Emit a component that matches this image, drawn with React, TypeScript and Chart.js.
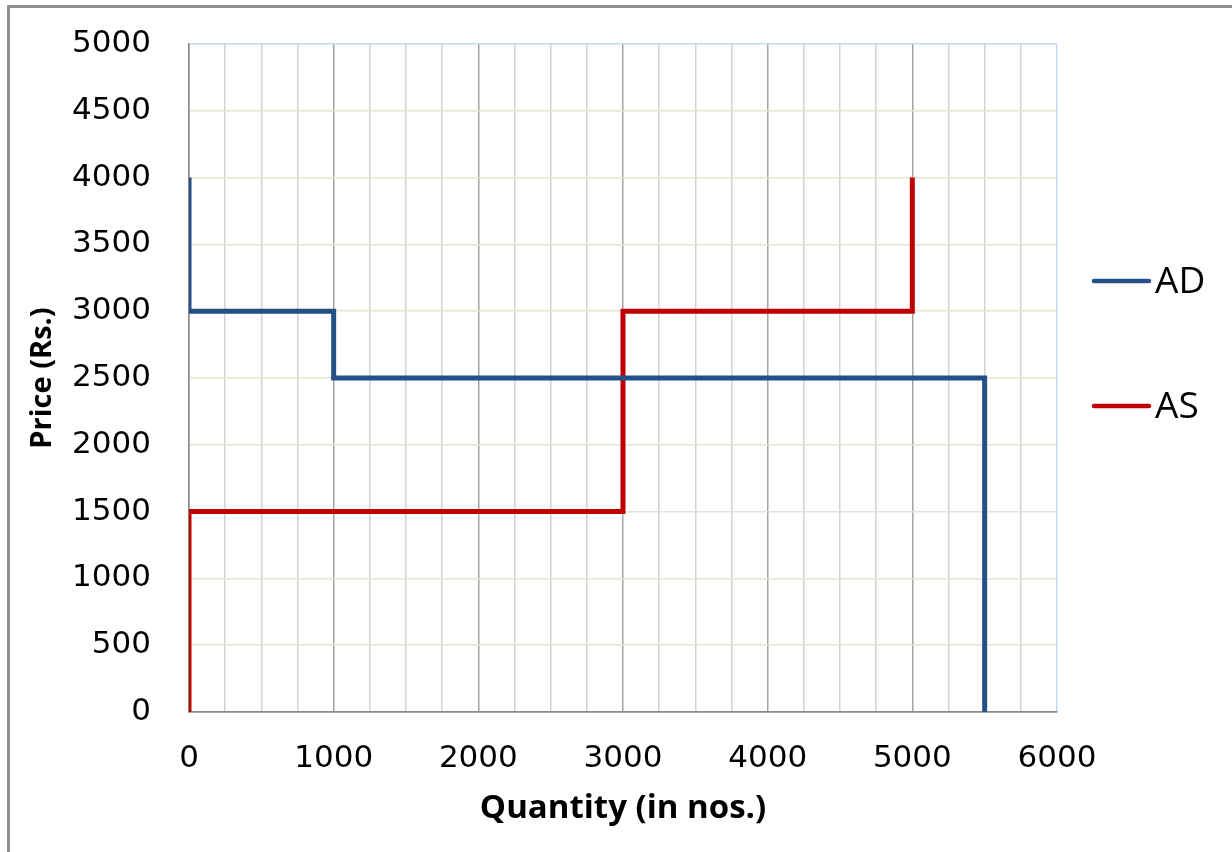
import React, { useEffect, useRef } from "react";
import { Chart, registerables } from "chart.js";

Chart.register(...registerables);

const seriesNames = ["AD", "AS"];
const adQuantity = [0, 0, 1000, 1000, 5500, 5500];
const adPrice = [4000, 3000, 3000, 2500, 2500, 0];
const asQuantity = [0, 0, 3000, 3000, 5000, 5000];
const asPrice = [0, 1500, 1500, 3000, 3000, 4000];
const xTickLabels = ["0", "1000", "2000", "3000", "4000", "5000", "6000"];
const yTickLabels = ["0", "500", "1000", "1500", "2000", "2500", "3000", "3500", "4000", "4500", "5000"];

const colors = ["#244F87", "#C00000"];

const toPoints = (xs: number[], ys: number[]) => xs.map((x, i) => ({ x, y: ys[i] }));

const legendPlugin = {
  id: "sideLegend",
  afterDraw(chart: any) {
    const ctx = chart.ctx;
    const ys = [281, 406];
    ctx.save();
    chart.data.datasets.forEach((ds: any, i: number) => {
      const y = ys[i];
      ctx.strokeStyle = ds.borderColor;
      ctx.lineWidth = 4.5;
      ctx.lineCap = "round";
      ctx.beginPath();
      ctx.moveTo(1094, y);
      ctx.lineTo(1149, y);
      ctx.stroke();
      ctx.fillStyle = "#000";
      ctx.font = "37px 'Open Sans'";
      ctx.textBaseline = "middle";
      ctx.textAlign = "left";
      ctx.fillText(ds.label, 1155, y + 1);
    });
    ctx.restore();
  },
};

export default function App() {
  const ref = useRef<HTMLCanvasElement>(null);

  useEffect(() => {
    if (!ref.current) return;
    const chart = new Chart(ref.current, {
      type: "line",
      data: {
        datasets: [
          {
            label: seriesNames[0],
            data: toPoints(adQuantity, adPrice),
            borderColor: colors[0],
            backgroundColor: colors[0],
            borderWidth: 5,
            pointRadius: 0,
            tension: 0,
            fill: false,
          },
          {
            label: seriesNames[1],
            data: toPoints(asQuantity, asPrice),
            borderColor: colors[1],
            backgroundColor: colors[1],
            borderWidth: 5,
            pointRadius: 0,
            tension: 0,
            fill: false,
          },
        ],
      },
      options: {
        animation: false,
        responsive: false,
        devicePixelRatio: 1,
        layout: { padding: { left: 0, top: 44, right: 175, bottom: 0 } },
        plugins: { legend: { display: false }, tooltip: { enabled: false } },
        scales: {
          x: {
            type: "linear",
            min: 0,
            max: 6000,
            afterFit: (s: any) => {
              s.height = 140;
              s.paddingLeft = 0;
              s.paddingRight = 0;
            },
            ticks: {
              stepSize: 250,
              autoSkip: false,
              maxRotation: 0,
              padding: 28,
              color: "#000",
              font: { family: "'DejaVu Sans'", size: 31 },
              callback: (v: any) => {
                const n = Number(v);
                return n % 1000 === 0 ? xTickLabels[n / 1000] : "";
              },
            },
            grid: {
              drawTicks: false,
              lineWidth: 1.5,
              color: (c: any) => {
                const v = c.tick ? c.tick.value : 0;
                if (v === 6000) return "#c6d9f1";
                if (v === 0) return "#8c8c8c";
                return v % 1000 === 0 ? "#a3a3a3" : "#d2d2d2";
              },
            },
            border: { display: true, color: "#8c8c8c", width: 1.5 },
            title: {
              display: true,
              text: "Quantity (in nos.)",
              color: "#000",
              font: { family: "'Open Sans'", size: 33, weight: "bold" },
              padding: { top: 0, bottom: 24 },
            },
          },
          y: {
            type: "linear",
            min: 0,
            max: 5000,
            afterFit: (s: any) => {
              s.width = 189;
              s.paddingTop = 0;
              s.paddingBottom = 0;
            },
            ticks: {
              stepSize: 500,
              padding: 38,
              color: "#000",
              font: { family: "'DejaVu Sans'", size: 31 },
              callback: (v: any) => yTickLabels[Number(v) / 500],
            },
            grid: {
              drawTicks: false,
              lineWidth: 1.5,
              color: (c: any) => {
                const v = c.tick ? c.tick.value : 0;
                if (v === 5000) return "#c6d9f1";
                if (v === 0) return "#8c8c8c";
                return "#e6e2d4";
              },
            },
            border: { display: true, color: "#8c8c8c", width: 1.5 },
            title: {
              display: true,
              text: "Price (Rs.)",
              color: "#000",
              font: { family: "'Open Sans'", size: 29, weight: "bold" },
              padding: { top: 25, bottom: 0 },
            },
          },
        },
      },
      plugins: [legendPlugin],
    });
    return () => chart.destroy();
  }, []);

  return (
    <div style={{ position: "fixed", left: 0, top: 0, width: 1232, height: 852, background: "#fff", overflow: "hidden" }}>
      <div
        style={{
          position: "absolute",
          left: 7,
          top: 5,
          width: 1400,
          height: 1000,
          borderLeft: "3px solid #8e8e8e",
          borderTop: "3px solid #8e8e8e",
        }}
      />
      <canvas ref={ref} width={1232} height={852} style={{ position: "absolute", left: 0, top: 0 }} />
    </div>
  );
}
